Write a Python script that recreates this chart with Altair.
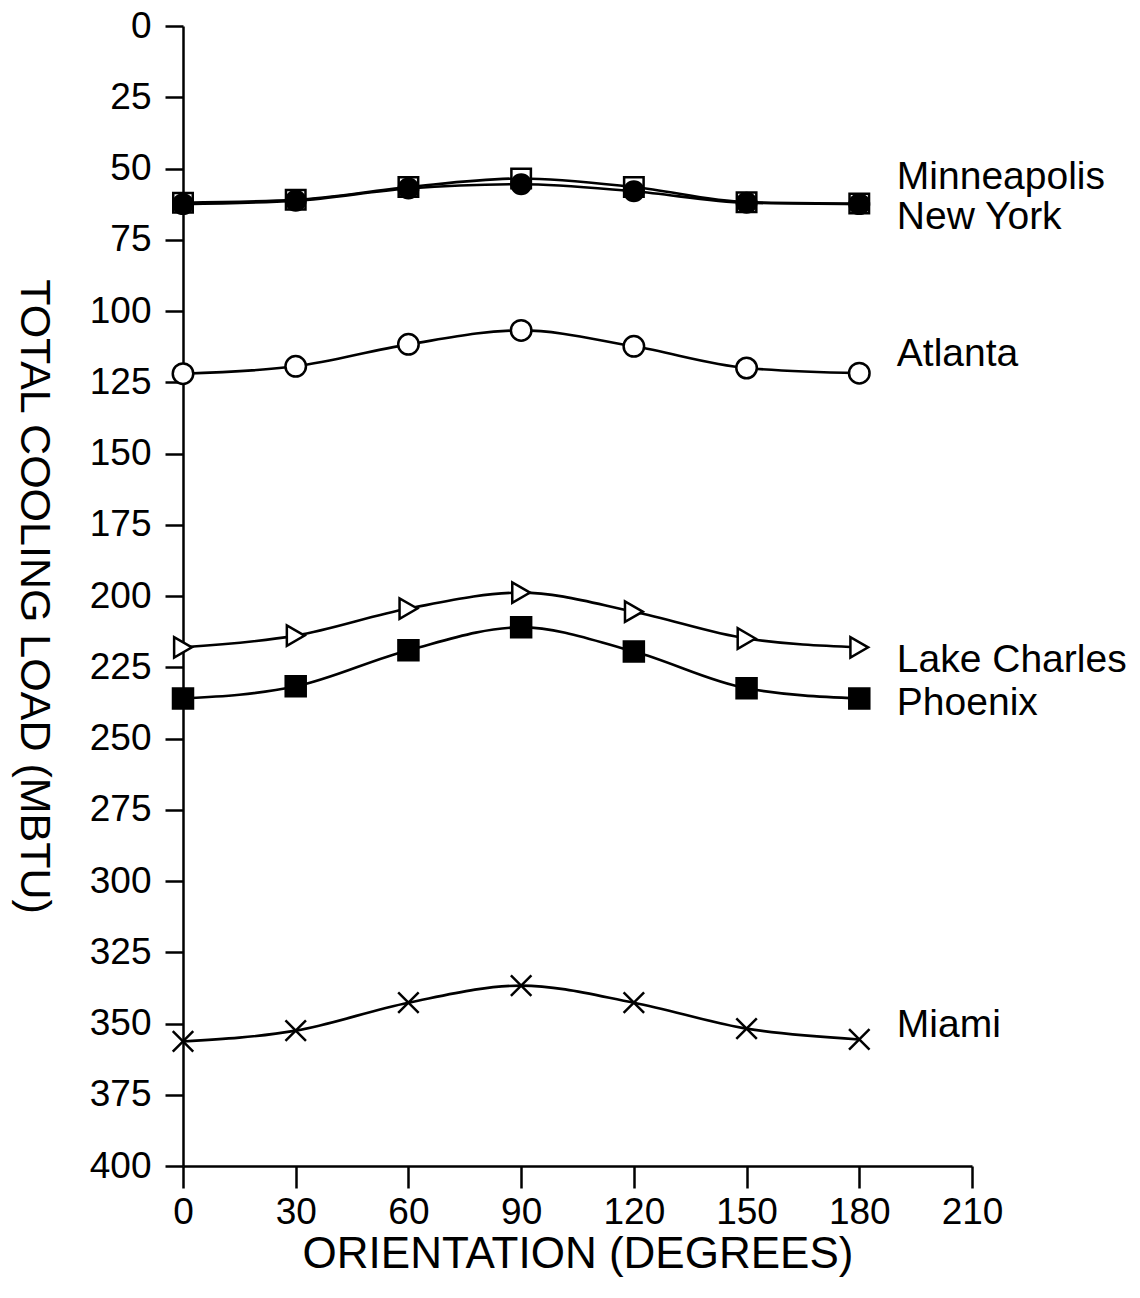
import altair as alt
import pandas as pd

orientation = [0, 30, 60, 90, 120, 150, 180]

minneapolis = [62.0, 61.0, 56.5, 53.5, 56.5, 61.8, 62.3]
new_york = [62.5, 61.3, 57.0, 55.5, 58.0, 62.0, 62.5]
atlanta = [122.0, 119.4, 111.7, 106.8, 112.4, 120.0, 121.8]
lake_charles = [218.0, 213.9, 204.4, 198.8, 205.5, 214.9, 218.0]
phoenix = [236.0, 231.7, 219.0, 211.0, 219.5, 232.4, 236.0]
miami = [356.3, 352.5, 342.7, 336.7, 342.7, 351.8, 355.6]

series_names = ["Minneapolis", "New York", "Atlanta", "Lake Charles", "Phoenix", "Miami"]
series_values = [minneapolis, new_york, atlanta, lake_charles, phoenix, miami]

label_x = [190, 190, 190, 190, 190, 190]
label_y = [53, 67, 115, 222.5, 237.5, 350.5]

y_ticks = list(range(0, 401, 25))
x_ticks = list(range(0, 211, 30))

FONT = "Liberation Sans"
TITLE_FONT = "Liberation Sans"

rows = []
for name, vals in zip(series_names, series_values):
    for o, v in zip(orientation, vals):
        rows.append({"series": name, "orientation": o, "load": v})
df = pd.DataFrame(rows)

labels_df = pd.DataFrame({"name": series_names, "x": label_x, "y": label_y})

x_scale = alt.Scale(domain=[0, 210], nice=False, zero=False)
y_scale = alt.Scale(domain=[0, 400], reverse=True, nice=False)

x_axis = alt.Axis(
    values=x_ticks, title="ORIENTATION (DEGREES)", grid=False,
    tickSize=22, tickWidth=2.5, tickColor="black",
    domainColor="black", domainWidth=2.5,
    labelFont=FONT, labelFontSize=37, labelColor="black", labelPadding=6,
    labelFlush=False, labelOverlap=False,
    titleFont=TITLE_FONT, titleFontSize=44, titleFontWeight="normal", titleColor="black",
    titleBaseline="middle", titleY=88,
)
y_axis = alt.Axis(
    values=y_ticks, title="TOTAL COOLING LOAD (MBTU)", grid=False,
    tickSize=18, tickWidth=2.5, tickColor="black",
    domainColor="black", domainWidth=2.5,
    labelFont=FONT, labelFontSize=37, labelColor="black", labelPadding=14,
    labelFlush=False, labelOverlap=False,
    titleFont=TITLE_FONT, titleFontSize=43, titleFontWeight="normal", titleColor="black",
    titleAngle=90, titleBaseline="middle", titleAlign="center", titleX=-150, titleY=570,
)

marker_styles = {
    "Minneapolis": dict(shape="square", filled=True, fill="white", stroke="black", size=380),
    "New York": dict(shape="circle", filled=True, fill="black", stroke="black", size=380),
    "Atlanta": dict(shape="circle", filled=True, fill="white", stroke="black", size=420),
    "Lake Charles": dict(shape="triangle-right", filled=True, fill="white", stroke="black", size=420),
    "Phoenix": dict(shape="square", filled=True, fill="black", stroke="black", size=400),
    "Miami": dict(shape="M-1,-1L1,1M-1,1L1,-1", filled=False, stroke="black", size=420),
}

layers = []
base_enc = dict(
    x=alt.X("orientation:Q", scale=x_scale, axis=x_axis),
    y=alt.Y("load:Q", scale=y_scale, axis=y_axis),
)
for name in series_names:
    sub = df[df["series"] == name]
    line = alt.Chart(sub).mark_line(
        interpolate="monotone", color="black", strokeWidth=2.6
    ).encode(**base_enc)
    layers.append(line)
for name in series_names:
    sub = df[df["series"] == name]
    st = marker_styles[name]
    pts = alt.Chart(sub).mark_point(
        opacity=1, strokeWidth=2.5, **st
    ).encode(**base_enc)
    layers.append(pts)

text = alt.Chart(labels_df).mark_text(
    align="left", baseline="middle", font=FONT, fontSize=39, color="black"
).encode(
    x=alt.X("x:Q", scale=x_scale),
    y=alt.Y("y:Q", scale=y_scale),
    text="name:N",
)
layers.append(text)

chart = alt.layer(*layers).properties(
    width=789, height=1140,
    autosize=alt.AutoSizeParams(type="none"),
    padding={"left": 175, "top": 18, "right": 160, "bottom": 116},
    background="white",
).configure_view(stroke=None, strokeWidth=0)

chart.save("out.html", embed_options={"renderer": "svg", "actions": False})
